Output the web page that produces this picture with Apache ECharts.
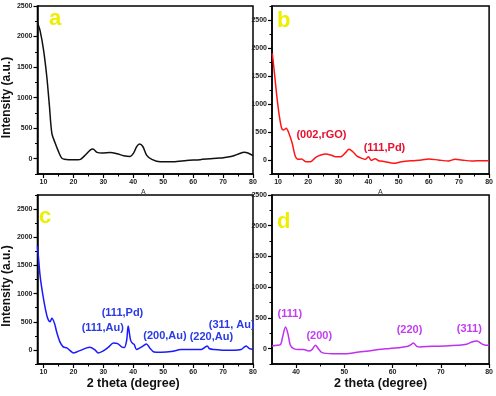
<!DOCTYPE html>
<html>
<head>
<meta charset="utf-8">
<script src="https://cdn.jsdelivr.net/npm/echarts@6/dist/echarts.min.js"></script>
<style>
  html, body { margin: 0; padding: 0; background: #fff; }
  #chart { width: 496px; height: 396px; }
</style>
</head>
<body>
<div id="chart"></div>
<script>
// panel a (black)
var aX = [8, 8.9, 10, 11.1, 12, 12.8, 13.9, 15, 16.1, 17, 18.5, 21.5, 22.5, 24, 25.6, 26.5, 27.9, 29.6, 32.3, 34.6, 36.8, 39, 40.1, 41.2, 42.1, 43.2, 44.5, 46.2, 49, 53.4, 57.8, 62.3, 66.7, 69, 71, 73.3, 75.5, 77, 78.3, 80];
var aY = [2225, 2090, 1790, 1350, 860, 420, 257, 120, 10, -10, -15, -15, -5, 60, 140, 160, 105, 93, 103, 82, 49, 38, 93, 202, 240, 200, 55, -10, -50, -50, -30, -15, 5, 10, 25, 45, 85, 105, 95, 50];
// panel b (red)
var bX = [8.1, 8.7, 9.5, 10.3, 11.2, 11.9, 12.7, 13.6, 14.7, 15.8, 16.9, 17.8, 19.2, 20.8, 22.5, 24.2, 25.8, 27.5, 29.1, 30.8, 32.4, 33.5, 34.8, 36.2, 37.8, 38.9, 40, 40.9, 42.2, 43.3, 45.5, 48.3, 51, 54.3, 57.6, 59.9, 63.2, 66.5, 68.7, 70.9, 74.3, 77.6, 80];
var bY = [1905, 1607, 1190, 834, 566, 536, 566, 476, 298, 59, 12, 18, -30, -30, 48, 89, 107, 89, 59, 59, 131, 190, 148, 71, 30, 12, 59, -6, 24, -12, -30, -59, -30, -12, 0, 18, 0, -18, 12, 0, -18, -12, -12];
// panel c (blue)
var cX = [8, 8.3, 8.9, 9.7, 10.6, 11.4, 12.2, 12.8, 13.7, 14.4, 15.5, 16.6, 17.8, 18.9, 20, 21.1, 22.8, 24.4, 25.5, 27.2, 28.3, 30, 31.7, 33.4, 34.8, 36.1, 37, 37.8, 38.3, 39.1, 39.8, 40.3, 41.1, 42.2, 43.3, 44.4, 45.5, 46.9, 49.4, 52.7, 56, 59.4, 62.7, 64.7, 65.5, 67.1, 70.4, 73.7, 76, 77.7, 78.8, 80];
var cY = [1850, 1661, 1304, 1007, 739, 561, 500, 561, 471, 321, 143, 54, 36, -12, -54, -36, 0, 36, 48, 0, -54, -18, 48, 125, 113, 54, 42, 173, 423, 173, 113, 100, 6, 36, 71, 107, 36, -36, -42, -30, 6, 6, 6, 71, 20, 6, -6, -6, 6, 71, 24, 12];
// panel d (magenta)
var dX = [35, 36.1, 36.8, 37.2, 37.8, 38.3, 38.8, 39.5, 40.5, 41.6, 42.6, 43.3, 44, 44.6, 45.4, 47.5, 50.2, 53, 55, 57.1, 59.1, 61.2, 63.2, 63.9, 64.3, 65, 65.7, 68.1, 70.9, 73.6, 75.3, 76.4, 77.5, 78.4, 79.4, 80];
var dY = [43, 54, 70, 190, 353, 245, 54, 0, -16, -16, -38, -16, 54, 0, -65, -82, -82, -54, -38, -16, 0, 16, 38, 70, 92, 38, 27, 38, 43, 54, 70, 108, 125, 81, 54, 54];

// tick labels
var xTicks = [10, 20, 30, 40, 50, 60, 70, 80];
var xMinor = [15, 25, 35, 45, 55, 65, 75];
var dxTicks = [40, 50, 60, 70, 80];
var dxMinor = [45, 55, 65, 75];
var yTicks = [0, 500, 1000, 1500, 2000, 2500];
var yMinor = [-250, 250, 750, 1250, 1750, 2250, 2750];

// peak labels: text, x, y (data units)
var bPeaks = [['(002,rGO)', 24.4, 446], ['(111,Pd)', 45.3, 214]];
var cPeaks = [['(111,Pd)', 36.4, 655], ['(111,Au)', 29.8, 388], ['(200,Au)', 50.6, 245], ['(220,Au)', 66.1, 227], ['(311, Au)', 72.9, 441]];
var dPeaks = [['(111)', 38.7, 560], ['(200)', 44.8, 201], ['(220)', 63.5, 299], ['(311)', 75.9, 315]];

var FONT = '"Liberation Sans", Arial, sans-serif';

function pairs(xs, ys) {
  return xs.map(function (x, i) { return [x, ys[i]]; });
}

function plain(v) { return String(v); }

var grids = [
  { left: 36, top: 6, width: 217, height: 168 },
  { left: 272, top: 6, width: 218, height: 168 },
  { left: 36, top: 195, width: 217, height: 169 },
  { left: 272, top: 195, width: 218, height: 169 }
];
grids.forEach(function (g) {
  g.show = true; g.borderColor = '#000'; g.borderWidth = 1.5; g.backgroundColor = 'transparent';
});

var xRanges = [[8, 80], [8, 80], [8, 80], [35, 80]];
var yRanges = [[-250, 2500], [-250, 2750], [-250, 2750], [-250, 2500]];

var xAxis = [], yAxis = [];
for (var i = 0; i < 4; i++) {
  var ticks = i === 3 ? dxTicks : xTicks;
  var minor = i === 3 ? dxMinor : xMinor;
  var xa = {
    type: 'value', gridIndex: i, min: xRanges[i][0], max: xRanges[i][1], position: 'bottom',
    splitLine: { show: false },
    axisLine: { onZero: false, lineStyle: { color: '#000', width: 1.5 } },
    axisTick: { customValues: ticks, length: 4, lineStyle: { color: '#000', width: 1.2 } },
    axisLabel: { customValues: ticks, formatter: plain, fontSize: 7, fontWeight: 'bold', color: '#222', margin: 5, fontFamily: FONT }
  };
  if (i >= 2) {
    xa.name = '2 theta (degree)';
    xa.nameLocation = 'middle';
    xa.nameGap = 9;
    xa.nameTextStyle = { fontSize: 12.5, fontWeight: 'bold', color: '#111', fontFamily: FONT,
      padding: i === 2 ? [0, 24, 0, 0] : 0 };
  }
  xAxis.push(xa);
  xAxis.push({
    type: 'value', gridIndex: i, min: xRanges[i][0], max: xRanges[i][1], position: 'bottom',
    splitLine: { show: false }, axisLine: { show: false, onZero: false }, axisLabel: { show: false },
    axisTick: { customValues: minor, length: 2.5, lineStyle: { color: '#000', width: 1 } }
  });

  var ya = {
    type: 'value', gridIndex: i, min: yRanges[i][0], max: yRanges[i][1], position: 'left',
    splitLine: { show: false },
    axisLine: { onZero: false, lineStyle: { color: '#000', width: 1.5 } },
    axisTick: { customValues: yTicks, length: 4, lineStyle: { color: '#000', width: 1.2 } },
    axisLabel: { customValues: yTicks, formatter: plain, fontSize: 7, fontWeight: 'bold', color: '#222', margin: 5, fontFamily: FONT }
  };
  if (i === 0 || i === 2) {
    ya.name = 'Intensity (a.u.)';
    ya.nameLocation = 'middle';
    ya.nameGap = 22;
    ya.nameTextStyle = { fontSize: 12, fontWeight: 'bold', color: '#111', fontFamily: FONT,
      padding: i === 0 ? [0, 15, 0, 0] : [0, 13, 0, 0] };
  }
  yAxis.push(ya);
  yAxis.push({
    type: 'value', gridIndex: i, min: yRanges[i][0], max: yRanges[i][1], position: 'left',
    splitLine: { show: false }, axisLine: { show: false, onZero: false }, axisLabel: { show: false },
    axisTick: { customValues: yMinor, length: 2.5, lineStyle: { color: '#000', width: 1 } }
  });
}

function peakMarks(list, color) {
  return {
    symbol: 'circle', symbolSize: 0, silent: true,
    label: { show: true, position: 'inside', formatter: '{b}', color: color,
      fontSize: 11, fontWeight: 'bold', fontFamily: FONT },
    data: list.map(function (p) { return { name: p[0], coord: [p[1], p[2]] }; })
  };
}

function lineSeries(idx, xs, ys, color, peaks, textColor) {
  var s = {
    type: 'line', xAxisIndex: idx * 2, yAxisIndex: idx * 2,
    data: pairs(xs, ys), showSymbol: false, smooth: 0.3,
    lineStyle: { color: color, width: 1.5 }
  };
  if (peaks) s.markPoint = peakMarks(peaks, textColor);
  return s;
}

function letter(txt, x, y) {
  return { type: 'text', left: x, top: y, style: { text: txt, fill: '#eeee00',
    font: 'bold 22px ' + FONT } };
}

var chart = echarts.init(document.getElementById('chart'), null, { renderer: 'canvas' });
chart.setOption({
  backgroundColor: '#fff',
  animation: false,
  grid: grids,
  xAxis: xAxis,
  yAxis: yAxis,
  series: [
    lineSeries(0, aX, aY, '#111'),
    lineSeries(1, bX, bY, '#ff1515', bPeaks, '#e8102e'),
    lineSeries(2, cX, cY, '#1a1aff', cPeaks, '#2a3ae6'),
    lineSeries(3, dX, dY, '#c030f0', dPeaks, '#c23ef0')
  ],
  graphic: [
    letter('a', 49, 8),
    letter('b', 277, 10),
    letter('c', 39, 206),
    letter('d', 277, 211),
    { type: 'text', left: 141, top: 189, style: { text: 'A', fill: '#333', font: '7px ' + FONT } },
    { type: 'text', left: 378, top: 189, style: { text: 'A', fill: '#333', font: '7px ' + FONT } }
  ]
});
</script>
</body>
</html>
